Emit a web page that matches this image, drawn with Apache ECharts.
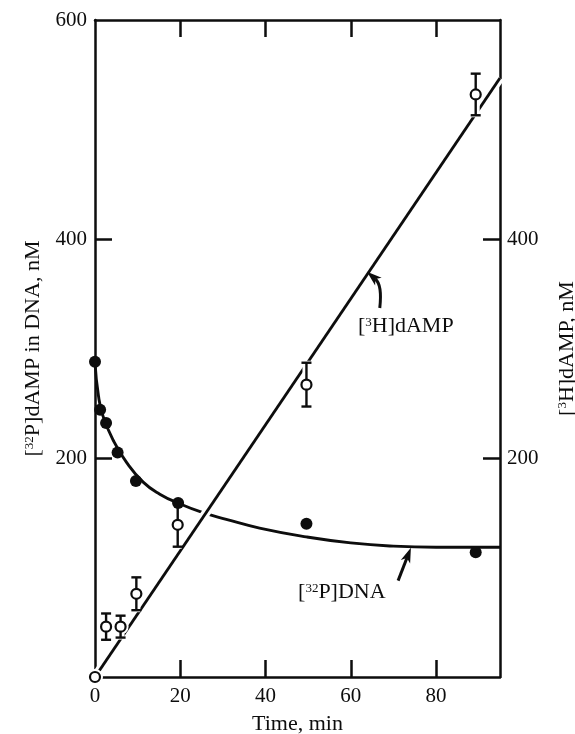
<!DOCTYPE html>
<html><head><meta charset="utf-8">
<script src="https://cdn.jsdelivr.net/npm/echarts@6/dist/echarts.min.js"></script>
<style>html,body{margin:0;padding:0;background:#fff}#c{width:575px;height:734px}</style>
</head><body><div id="c"></div>
<script>
// ---- data ----
const xTickLabels = [0, 20, 40, 60, 80];
const xTickMarks = [20, 40, 60, 80];
const yLeftTickLabels = [200, 400, 600];
const yRightTickLabels = [200, 400];
const yTickMarks = [200, 400];

// [32P]DNA (filled circles, left axis)
const dnaTime  = [0, 1.2, 2.6, 5.3, 9.6, 19.5, 49.6, 89.3];
const dnaValue = [288, 244, 232, 205, 179, 159, 140, 114];
// fitted curve
const dnaCurveTime  = [0, 0.8, 1.9, 4.3, 7.4, 11.3, 15.2, 20, 25, 30.8, 38.6, 49.5, 60, 70, 80, 95];
const dnaCurveValue = [287, 257, 238, 216, 196, 178, 167, 158, 150.5, 144, 136, 128, 122.5, 119.5, 118.5, 118.5];

// [3H]dAMP (open circles with error bars, right axis)
const dampTime  = [0, 2.6, 6.0, 9.7, 19.4, 49.6, 89.3];
const dampValue = [0, 46, 46, 76, 139, 267, 532];
const dampErr   = [0, 12, 10, 15, 20, 20, 19];
// straight fitted line
const dampLineTime  = [0, 95];
const dampLineValue = [0, 547];

const INK = '#0d0d0d';
const FONT = 'Liberation Serif';

const chart = echarts.init(document.getElementById('c'), null, {renderer: 'canvas'});

function axisCommon() {
  return {
    axisLine: {show: true, onZero: false, lineStyle: {color: INK, width: 2.5}},
    axisTick: {show: true, inside: true, length: 17, lineStyle: {color: INK, width: 2.5}},
    splitLine: {show: false},
    axisLabel: {color: INK, fontFamily: FONT, fontSize: 21}
  };
}
const supRich = {
  n: {fontFamily: FONT, fontSize: 22, color: INK, lineHeight: 24},
  s: {fontFamily: FONT, fontSize: 13, color: INK, lineHeight: 24, padding: [0, 0, 9, 0]}
};

const xb = axisCommon();
const xt = axisCommon();
const yl = axisCommon();
const yr = axisCommon();

function errRender(halo) {
  return function (params, api) {
    const e = api.value(2);
    const t = api.value(0), v = api.value(1);
    const c = api.coord([t, v]);
    const hi = api.coord([t, v + e]);
    const lo = api.coord([t, v - e]);
    const w = 5;
    if (halo) {
      const kids = [{type: 'circle', shape: {cx: c[0], cy: c[1], r: 8}, style: {fill: '#fff'}}];
      if (e) kids.push({type: 'line', shape: {x1: hi[0], y1: hi[1] - 2, x2: lo[0], y2: lo[1] + 2}, style: {stroke: '#fff', lineWidth: 8}});
      return {type: 'group', children: kids};
    }
    if (!e) return null;
    return {
      type: 'group',
      children: [
        {type: 'line', shape: {x1: hi[0], y1: hi[1], x2: lo[0], y2: lo[1]}, style: {stroke: INK, lineWidth: 2.4}},
        {type: 'line', shape: {x1: hi[0] - w, y1: hi[1], x2: hi[0] + w, y2: hi[1]}, style: {stroke: INK, lineWidth: 2.4}},
        {type: 'line', shape: {x1: lo[0] - w, y1: lo[1], x2: lo[0] + w, y2: lo[1]}, style: {stroke: INK, lineWidth: 2.4}}
      ]
    };
  };
}

const option = {
  animation: false,
  backgroundColor: '#fff',
  grid: {left: 95, right: 75, top: 20, bottom: 57, containLabel: false, outerBoundsMode: 'none'},
  xAxis: [
    Object.assign(xb, {
      type: 'value', position: 'bottom', min: 0, max: 95, interval: 20,
      name: 'Time, min', nameLocation: 'middle', nameGap: 36,
      nameTextStyle: {fontFamily: FONT, fontSize: 22, color: INK},
      axisTick: Object.assign(xb.axisTick, {customValues: xTickMarks}),
      axisLabel: Object.assign(xb.axisLabel, {customValues: xTickLabels, margin: 9})
    }),
    Object.assign(xt, {
      type: 'value', position: 'top', min: 0, max: 95, interval: 20,
      axisTick: Object.assign(xt.axisTick, {customValues: xTickMarks}),
      axisLabel: {show: false}
    })
  ],
  yAxis: [
    Object.assign(yl, {
      type: 'value', position: 'left', min: 0, max: 600, interval: 200,
      name: '[{s|32}{n|P]dAMP in DNA, nM}', nameLocation: 'middle', nameGap: 46,
      nameTextStyle: {rich: supRich, fontFamily: FONT, fontSize: 22, color: INK},
      axisTick: Object.assign(yl.axisTick, {customValues: yTickMarks}),
      axisLabel: Object.assign(yl.axisLabel, {customValues: yLeftTickLabels, margin: 8})
    }),
    Object.assign(yr, {
      type: 'value', position: 'right', min: 0, max: 600, interval: 200,
      name: '[{s|3}{n|H]dAMP, nM}', nameLocation: 'middle', nameGap: 55,
      nameTextStyle: {rich: supRich, fontFamily: FONT, fontSize: 22, color: INK},
      axisTick: Object.assign(yr.axisTick, {customValues: yTickMarks}),
      axisLabel: Object.assign(yr.axisLabel, {customValues: yRightTickLabels, margin: 7})
    })
  ],
  series: [
    {
      name: 'dna-curve', type: 'line', xAxisIndex: 0, yAxisIndex: 0,
      data: dnaCurveTime.map((t, i) => [t, dnaCurveValue[i]]),
      showSymbol: false, smooth: 0.5,
      lineStyle: {color: INK, width: 2.9}, z: 2, silent: true
    },
    {
      name: 'damp-line-halo', type: 'line', xAxisIndex: 0, yAxisIndex: 1,
      data: dampLineTime.map((t, i) => [t, dampLineValue[i]]),
      showSymbol: false, lineStyle: {color: '#fff', width: 9}, z: 3, silent: true
    },
    {
      name: 'damp-line', type: 'line', xAxisIndex: 0, yAxisIndex: 1,
      data: dampLineTime.map((t, i) => [t, dampLineValue[i]]),
      showSymbol: false, lineStyle: {color: INK, width: 2.9}, z: 4, silent: true
    },
    {
      name: 'damp-err-halo', type: 'custom', xAxisIndex: 0, yAxisIndex: 1,
      data: dampTime.map((t, i) => [t, dampValue[i], dampErr[i]]),
      renderItem: errRender(true), z: 5, silent: true
    },
    {
      name: 'damp-err', type: 'custom', xAxisIndex: 0, yAxisIndex: 1,
      data: dampTime.map((t, i) => [t, dampValue[i], dampErr[i]]),
      renderItem: errRender(false), z: 6, silent: true
    },
    {
      name: 'dna-points', type: 'scatter', xAxisIndex: 0, yAxisIndex: 0,
      data: dnaTime.map((t, i) => [t, dnaValue[i]]),
      symbol: 'circle', symbolSize: 12, itemStyle: {color: INK, opacity: 1}, z: 7, silent: true
    },
    {
      name: 'damp-points', type: 'scatter', xAxisIndex: 0, yAxisIndex: 1,
      data: dampTime.map((t, i) => [t, dampValue[i]]),
      symbol: 'circle', symbolSize: 10,
      itemStyle: {color: '#fff', borderColor: INK, borderWidth: 2.2, opacity: 1}, z: 8, silent: true
    }
  ]
};
chart.setOption(option);

// ---- annotations (placed in data coordinates) ----
const dampLabelAt = [72.9, 320];
const dnaLabelAt  = [57.9, 77];
const dampArrow = {tail: [66.8, 337], ctrl: [67.4, 358], tip: [63.8, 370]};
const dnaArrow  = {tail: [71.1, 88], ctrl: [72.6, 103], tip: [74.1, 118]};

function px(p) { return chart.convertToPixel({xAxisIndex: 0, yAxisIndex: 0}, p); }
function arrowGraphics(a) {
  const t = px(a.tail), c = px(a.ctrl), h = px(a.tip);
  const dx = h[0] - c[0], dy = h[1] - c[1];
  const L = Math.hypot(dx, dy) || 1;
  const ux = dx / L, uy = dy / L;
  const len = 15, half = 5;
  const bx = h[0] - ux * len, by = h[1] - uy * len;
  const back = [h[0] - ux * (len - 4), h[1] - uy * (len - 4)];
  return [
    {type: 'bezierCurve', shape: {x1: t[0], y1: t[1], cpx1: c[0], cpy1: c[1], x2: back[0], y2: back[1]},
     style: {stroke: INK, lineWidth: 3, fill: null}, z: 10},
    {type: 'polygon', shape: {points: [[h[0], h[1]], [bx - uy * half, by + ux * half], [back[0], back[1]], [bx + uy * half, by - ux * half]]},
     style: {fill: INK}, z: 10}
  ];
}
function labelGraphic(at, rich) {
  const p = px(at);
  return {type: 'text', x: p[0], y: p[1], z: 10,
    style: {text: rich, rich: supRich, align: 'center', verticalAlign: 'middle', fontFamily: FONT, fontSize: 22, fill: INK}};
}
chart.setOption({
  graphic: [
    ...arrowGraphics(dampArrow),
    ...arrowGraphics(dnaArrow),
    labelGraphic(dampLabelAt, '{n|[}{s|3}{n|H]dAMP}'),
    labelGraphic(dnaLabelAt, '{n|[}{s|32}{n|P]DNA}')
  ]
});
</script>
</body></html>
